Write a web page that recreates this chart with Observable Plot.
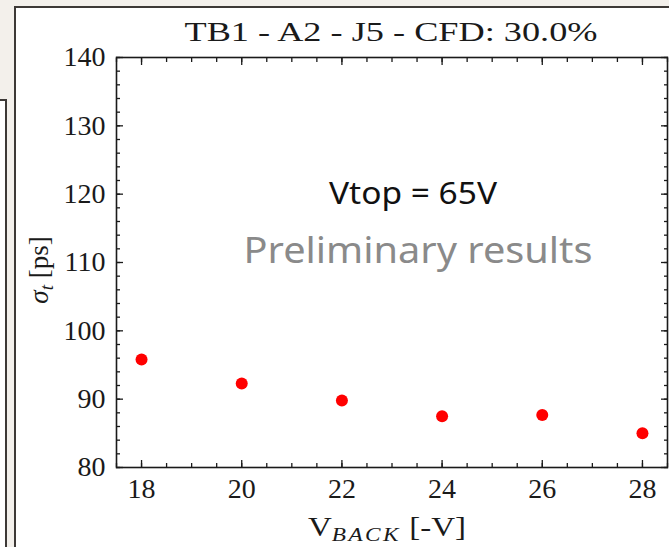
<!DOCTYPE html>
<html>
<head>
<meta charset="utf-8">
<script src="https://cdn.jsdelivr.net/npm/d3@7"></script>
<script src="https://cdn.jsdelivr.net/npm/@observablehq/plot@0.6"></script>
<style>
  html, body { margin: 0; padding: 0; }
  body { width: 669px; height: 547px; background: #f3f0eb; position: relative; overflow: hidden; }
  .side-box { position: absolute; left: -4px; top: 99px; width: 7px; height: 460px; background: #fff; border: 2px solid #3d3936; }
  .panel { position: absolute; left: 14px; top: 6px; width: 680px; height: 560px; background: #fff; border: 2px solid #3d3936; }
  #chart { position: absolute; left: 0; top: 0; }
</style>
</head>
<body>
<div class="side-box"></div>
<div class="panel"></div>
<div id="chart"></div>
<script>
// Back-bias scan: time resolution vs. back voltage
const vBack = [18, 20, 22, 24, 26, 28];
const sigmaT = [95.8, 92.3, 89.8, 87.5, 87.7, 85.0];

const xMajor = [18, 20, 22, 24, 26, 28];
const xMinor = d3.range(17.5, 28.51, 0.5);
const yMajor = [80, 90, 100, 110, 120, 130, 140];
const yMinor = d3.range(80, 140.1, 2);

const titleText = "TB1 - A2 - J5 - CFD: 30.0%";
const noteText = "Vtop = 65V";
const stampText = "Preliminary results";

const serif = "'Liberation Serif', serif";
const sans = "'Noto Sans', sans-serif";
const ink = "#1a1a1a";

const points = vBack.map((v, i) => ({v, s: sigmaT[i]}));

const tickStyle = {stroke: ink, strokeWidth: 1.3, strokeOpacity: 1};

const plot = Plot.plot({
  width: 669,
  height: 547,
  marginLeft: 116,
  marginRight: 2,
  marginTop: 57,
  marginBottom: 80,
  style: {background: "transparent", fontFamily: serif},
  x: {domain: [17.5, 28.5]},
  y: {domain: [80, 140]},
  marks: [
    // inward minor ticks on all four sides
    Plot.axisX({anchor: "bottom", ticks: xMinor, tickSize: -4, tickFormat: () => "", label: null, ...tickStyle}),
    Plot.axisX({anchor: "top", ticks: xMinor, tickSize: -4, tickFormat: () => "", label: null, ...tickStyle}),
    Plot.axisY({anchor: "left", ticks: yMinor, tickSize: -4, tickFormat: () => "", label: null, ...tickStyle}),
    Plot.axisY({anchor: "right", ticks: yMinor, tickSize: -4, tickFormat: () => "", label: null, ...tickStyle}),
    // inward major ticks with labels
    Plot.axisX({anchor: "bottom", ticks: xMajor, tickSize: -7, tickPadding: 18, tickFormat: d => String(d),
      label: null, fontSize: 28, fill: ink, ...tickStyle}),
    Plot.axisX({anchor: "top", ticks: xMajor, tickSize: -7, tickFormat: () => "", label: null, ...tickStyle}),
    Plot.axisY({anchor: "left", ticks: yMajor, tickSize: -7, tickPadding: 18, tickFormat: d => String(d),
      label: null, fontSize: 28, fill: ink, ...tickStyle}),
    Plot.axisY({anchor: "right", ticks: yMajor, tickSize: -7, tickFormat: () => "", label: null, ...tickStyle}),
    Plot.frame({stroke: ink, strokeWidth: 1.6}),
    Plot.dot(points, {x: "v", y: "s", r: 6, fill: "#ff0000", stroke: "none"}),
    Plot.text([noteText], {frameAnchor: "top", dx: 21, dy: 125, text: d => d, fontFamily: sans,
      fontSize: 30, fill: "#111", textAnchor: "middle", className: "note"}),
    Plot.text([stampText], {frameAnchor: "top", dx: 26, dy: 180, text: d => d, fontFamily: sans,
      fontSize: 36, fill: "#8a8a8a", textAnchor: "middle", className: "stamp"})
  ]
});

const svg = d3.select(plot);

// stretch the annotation text to the slide font's width
svg.selectAll(".note text").attr("textLength", 168).attr("lengthAdjust", "spacingAndGlyphs");
svg.selectAll(".stamp text").attr("textLength", 349).attr("lengthAdjust", "spacingAndGlyphs");

// title
svg.append("text")
  .attr("x", 391).attr("y", 41)
  .attr("text-anchor", "middle")
  .attr("font-family", serif).attr("font-size", 27).attr("fill", ink)
  .attr("textLength", 413).attr("lengthAdjust", "spacingAndGlyphs")
  .text(titleText);

// x-axis label: V_BACK [-V]
const xl = svg.append("text")
  .attr("x", 387).attr("y", 536)
  .attr("text-anchor", "middle")
  .attr("font-family", serif).attr("font-size", 27).attr("fill", ink)
  .attr("textLength", 158).attr("lengthAdjust", "spacingAndGlyphs");
xl.append("tspan").text("V");
xl.append("tspan").attr("dy", 5).attr("font-size", 19).attr("font-style", "italic").attr("letter-spacing", 2).text("BACK");
xl.append("tspan").attr("dy", -5).text(" [-V]");

// y-axis label: sigma_t [ps]
const yl = svg.append("text")
  .attr("transform", "translate(48,270) rotate(-90)")
  .attr("text-anchor", "middle")
  .attr("font-family", serif).attr("font-size", 27).attr("fill", ink);
yl.append("tspan").attr("font-style", "italic").text("σ");
yl.append("tspan").attr("dy", 5).attr("font-size", 19).attr("font-style", "italic").text("t");
yl.append("tspan").attr("dy", -5).text(" [ps]");

document.getElementById("chart").appendChild(plot);
</script>
</body>
</html>
